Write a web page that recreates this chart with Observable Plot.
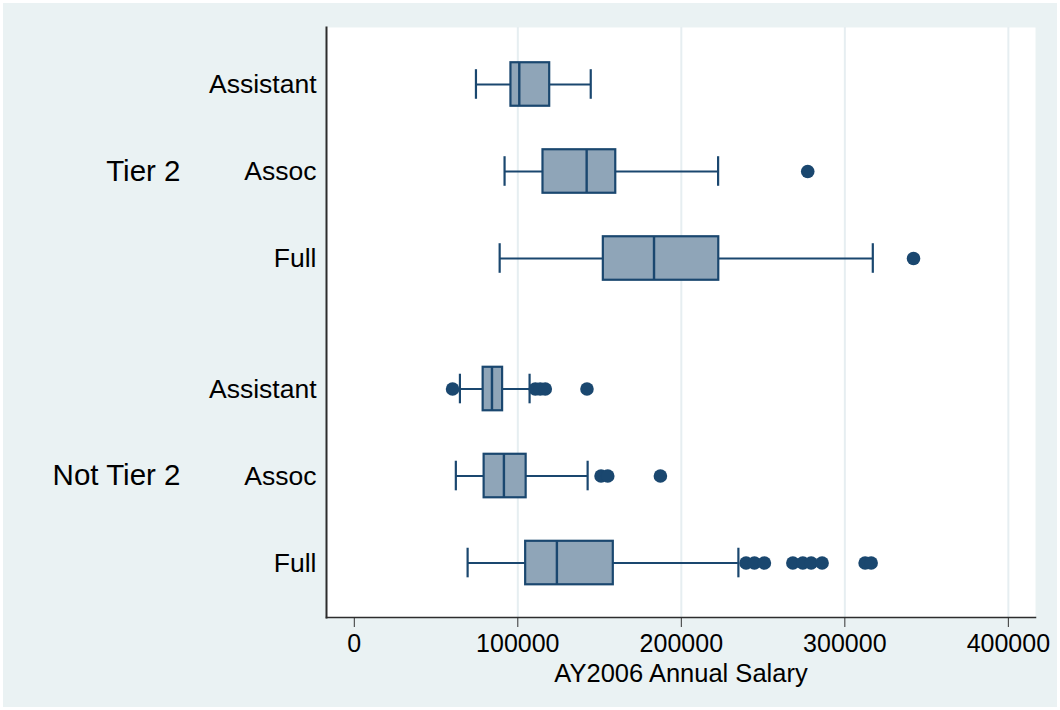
<!DOCTYPE html>
<html>
<head>
<meta charset="utf-8">
<script src="https://cdn.jsdelivr.net/npm/d3@7"></script>
<script src="https://cdn.jsdelivr.net/npm/@observablehq/plot@0.6"></script>
<style>
  html, body { margin: 0; padding: 0; background: #ffffff; }
  #chart svg { display: block; box-shadow: inset 0 0 0 3px #ffffff; }
</style>
</head>
<body>
<div id="chart"></div>
<script>
// ---- Data ----
const groups = ["Tier 2", "Not Tier 2"];
const ranks = ["Assistant", "Assoc", "Full"];
// order: Tier 2 (Assistant, Assoc, Full), Not Tier 2 (Assistant, Assoc, Full)
const lowerWhisker = [74400, 91900, 88900, 64600, 62100, 69300];
const quartile1    = [95800, 115400, 152300, 78800, 79400, 104800];
const medianValue  = [100900, 142100, 183300, 84200, 91500, 123900];
const quartile3    = [119500, 159900, 222900, 90700, 105100, 158400];
const upperWhisker = [144600, 222500, 317100, 107200, 142700, 234900];
const outlierValues = [
  [],
  [277300],
  [342000],
  [60100, 110700, 113700, 116800, 142300],
  [150900, 155000, 187200],
  [239600, 244700, 250800, 268200, 274300, 279400, 286100, 312400, 316100]
];
const xTicks = [0, 100000, 200000, 300000, 400000];
const xLabel = "AY2006 Annual Salary";

// ---- Build table ----
const groupGap = 3.5; // slot offset between groups
const rows = [];
groups.forEach((g, gi) => {
  ranks.forEach((r, ri) => {
    const i = gi * ranks.length + ri;
    rows.push({
      group: g, rank: r, pos: gi * groupGap + ri,
      lo: lowerWhisker[i], q1: quartile1[i], med: medianValue[i],
      q3: quartile3[i], hi: upperWhisker[i]
    });
  });
});
const outliers = [];
rows.forEach((row, i) => outlierValues[i].forEach(v => outliers.push({pos: row.pos, v})));
const groupLabels = groups.map((g, gi) => ({group: g, pos: gi * groupGap + (ranks.length - 1) / 2}));

const navy = "#1a476f";
const boxFill = "#8fa5b8";
const halfBox = 0.25, halfCap = 0.17;

const chart = Plot.plot({
  width: 1060,
  height: 710,
  marginLeft: 326,
  marginRight: 25,
  marginTop: 27,
  marginBottom: 93,
  style: {background: "#eaf2f3", fontFamily: "'Liberation Sans', Arial, sans-serif", color: "#000"},
  x: {domain: [-17000, 416600], ticks: xTicks},
  y: {domain: [-0.655, 6.126], reverse: true},
  marks: [
    Plot.frame({fill: "white", stroke: null}),
    Plot.gridX(xTicks.filter(t => t > 0), {stroke: "#e6eef1", strokeOpacity: 1, strokeWidth: 2}),
    // whiskers
    Plot.ruleY(rows, {y: "pos", x1: "lo", x2: "q1", stroke: navy, strokeWidth: 2}),
    Plot.ruleY(rows, {y: "pos", x1: "q3", x2: "hi", stroke: navy, strokeWidth: 2}),
    // caps
    Plot.ruleX(rows, {x: "lo", y1: d => d.pos - halfCap, y2: d => d.pos + halfCap, stroke: navy, strokeWidth: 2.2}),
    Plot.ruleX(rows, {x: "hi", y1: d => d.pos - halfCap, y2: d => d.pos + halfCap, stroke: navy, strokeWidth: 2.2}),
    // boxes
    Plot.rect(rows, {x1: "q1", x2: "q3", y1: d => d.pos - halfBox, y2: d => d.pos + halfBox,
      fill: boxFill, stroke: navy, strokeWidth: 2.2}),
    // medians
    Plot.ruleX(rows, {x: "med", y1: d => d.pos - halfBox, y2: d => d.pos + halfBox, stroke: navy, strokeWidth: 2.4}),
    // outliers
    Plot.dot(outliers, {x: "v", y: "pos", r: 6.8, fill: navy, stroke: null}),
    // axes
    Plot.axisX({ticks: xTicks, tickSize: 10, tickPadding: 7, fontSize: 25, stroke: "#333",
      tickFormat: d => String(d), label: null}),
    Plot.text([xLabel], {frameAnchor: "bottom", dy: 64, fontSize: 25.5, fill: "#000"}),
    Plot.axisY({ticks: rows.map(d => d.pos), tickFormat: (d, i) => rows[i].rank, tickSize: 0,
      tickPadding: 10, fontSize: 26.5, label: null}),
    Plot.text(groupLabels, {y: "pos", text: "group", frameAnchor: "left", dx: -146, textAnchor: "end",
      fontSize: 29.5, fill: "#000"}),
    Plot.frame({anchor: "left", stroke: "#2d2d2d", strokeWidth: 2}),
    Plot.frame({anchor: "bottom", stroke: "#2d2d2d", strokeWidth: 1.5})
  ]
});
document.getElementById("chart").append(chart);
</script>
</body>
</html>
